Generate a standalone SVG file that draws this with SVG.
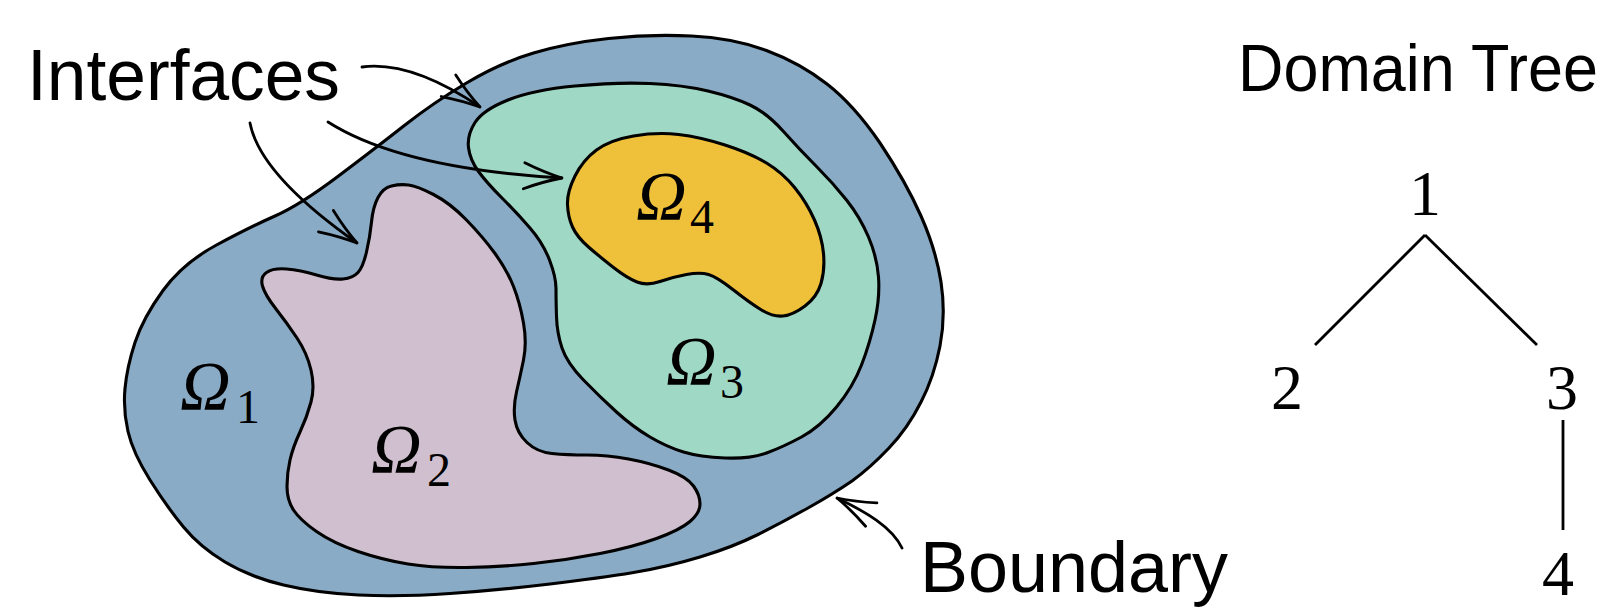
<svg xmlns="http://www.w3.org/2000/svg" width="1623" height="614" viewBox="0 0 1623 614">
<style>
.region{stroke:#000;stroke-width:3.1;stroke-linejoin:round}
.sans{font-family:"Liberation Sans",Arial,sans-serif;fill:#000}
.omega{font-family:"Liberation Serif","Times New Roman",serif;font-style:italic;font-size:70px;fill:#000}
.sub{font-style:normal;font-size:48px}
.num{font-family:"Liberation Serif","Times New Roman",serif;font-size:64px;fill:#000;text-anchor:middle}
.arrow{fill:none;stroke:#000;stroke-width:2.8;stroke-linecap:round}
.edge{fill:none;stroke:#000;stroke-width:2.8}
</style>
<defs>
<marker id="head" markerUnits="userSpaceOnUse" viewBox="-42 -16 46 32" refX="0" refY="0" markerWidth="46" markerHeight="32" orient="auto">
<path d="M-38,-13 C-24,-7 -8,-2 0,0 C-8,2 -24,7 -38,13" fill="none" stroke="#000" stroke-width="2.8" stroke-linecap="round"/>
</marker>
</defs>
<rect width="1623" height="614" fill="#fff"/>

<g id="omega1-region">
<path class="region" fill="#8AABC6" d="M135,342.5 Q143,318 163,290.5 Q183,263 216.5,245 Q250,227 275,216 Q300,205 338.5,176 Q377,147 405,125 Q433,103 466.5,83 Q500,63 533.5,53 Q567,43 608.5,38.5 Q650,34 691.5,36 Q733,38 766.5,50.5 Q800,63 827,84 Q854,105 880,143 Q906,182 921,216 Q936,250 941,282 Q946,315 940,346 Q934,377 921,402 Q908,428 889,448 Q870,468 852,481 Q833,494 808,508 Q783,522 758,534.5 Q733,547 700,557 Q667,567 633.5,572.5 Q600,578 550,584 Q500,590 450,593.5 Q400,597 358.5,595 Q317,593 283.5,585 Q250,577 225,562 Q200,547 183.5,527 Q167,507 150,480 Q133,453 128,431.5 Q123,410 125,388.5 Q127,367 135,342.5 Z"/>
<text class="omega" x="180" y="410">Ω<tspan class="sub" x="236" y="423">1</tspan></text>
</g>

<g id="omega2-region">
<path class="region" fill="#D0BFCE" d="M262.5,286 Q260,277 266.5,272.5 Q273,268 286.5,269 Q300,270 316.5,275 Q333,280 343,279 Q353,278 358,272.5 Q363,267 366.5,252 Q370,237 371.5,222 Q373,207 378,197.5 Q383,188 391.5,186 Q400,184 408.5,185 Q417,186 433.5,194.5 Q450,203 466.5,220 Q483,237 495,253.5 Q507,270 513.5,286.5 Q520,303 523.5,323 Q527,343 523.5,360 Q520,377 516.5,392 Q513,407 515,420 Q517,433 527,442.5 Q537,452 552,453.5 Q567,455 587,455 Q607,455 628.5,459 Q650,463 668.5,470 Q687,477 693.5,486 Q700,495 700,504 Q700,513 690,521.5 Q680,530 656.5,538.5 Q633,547 600,553.5 Q567,560 533.5,563.5 Q500,567 466.5,567.5 Q433,568 408,564 Q383,560 358,551.5 Q333,543 316.5,531.5 Q300,520 293.5,510 Q287,500 287,486.5 Q287,473 290,460 Q293,447 300,432 Q307,417 311,402 Q315,387 311,370 Q307,353 297,338 Q287,323 276,309 Q265,295 262.5,286 Z"/>
<text class="omega" x="371" y="473">Ω<tspan class="sub" x="427" y="486">2</tspan></text>
</g>

<g id="omega3-region">
<path class="region" fill="#A0D8C6" d="M475,122.5 Q483,110 508,100 Q533,90 575,86 Q617,82 650,83.5 Q683,85 708,91 Q733,97 750,105 Q767,113 783.5,131.5 Q800,150 816.5,166.5 Q833,183 846.5,200 Q860,217 868.5,237 Q877,257 878.5,277 Q880,297 875,320 Q870,343 861.5,365 Q853,387 836.5,407 Q820,427 801.5,437 Q783,447 766.5,453 Q750,459 725,458 Q700,457 683.5,452 Q667,447 650,437 Q633,427 616.5,412 Q600,397 583.5,380 Q567,363 562,348 Q557,333 556.5,316.5 Q556,300 556,288.5 Q556,277 549.5,260 Q543,243 530,228 Q517,213 502,198 Q487,183 478.5,171.5 Q470,160 468.5,147.5 Q467,135 475,122.5 Z"/>
<text class="omega" x="666" y="385">Ω<tspan class="sub" x="720" y="398">3</tspan></text>
</g>

<g id="omega4-region">
<path class="region" fill="#EFC13A" d="M567.5,204.5 Q567,192 575,176 Q583,160 596.5,150 Q610,140 633.5,136 Q657,132 678.5,134.5 Q700,137 725,145 Q750,153 766.5,163 Q783,173 795,188 Q807,203 814.5,220 Q822,237 823.5,253.5 Q825,270 821,283.5 Q817,297 805,306 Q793,315 783,316 Q773,317 761.5,310 Q750,303 733.5,290 Q717,277 708.5,274.5 Q700,272 686.5,274.5 Q673,277 660,281.5 Q647,286 637,282 Q627,278 613.5,267.5 Q600,257 588.5,247 Q577,237 572.5,227 Q568,217 567.5,204.5 Z"/>
<text class="omega" x="636" y="220">Ω<tspan class="sub" x="690" y="233">4</tspan></text>
</g>

<g id="label-interfaces">
<text class="sans" x="27" y="100" font-size="73" textLength="313" lengthAdjust="spacingAndGlyphs">Interfaces</text>
</g>
<g id="label-boundary">
<text class="sans" x="920" y="592" font-size="73" textLength="308" lengthAdjust="spacingAndGlyphs">Boundary</text>
</g>
<g id="label-domain-tree">
<text class="sans" x="1238" y="91" font-size="66" textLength="360" lengthAdjust="spacingAndGlyphs">Domain Tree</text>
</g>

<g id="tree-node-1"><text class="num" x="1425" y="215">1</text></g>
<g id="tree-node-2"><text class="num" x="1287" y="409">2</text></g>
<g id="tree-node-3"><text class="num" x="1562" y="409">3</text></g>
<g id="tree-node-4"><text class="num" x="1558" y="595">4</text></g>

<g id="connectors">
<path class="arrow" marker-end="url(#head)" d="M362,67 C400,62 440,80 480,107"/>
<path class="arrow" marker-end="url(#head)" d="M328,122 C380,155 460,172 562,178"/>
<path class="arrow" marker-end="url(#head)" d="M250,123 C258,165 310,210 357,243"/>
<path class="arrow" marker-end="url(#head)" d="M902,548 C892,527 866,512 837,498"/>
<line class="edge" x1="1425" y1="235" x2="1315" y2="345"/>
<line class="edge" x1="1425" y1="235" x2="1537" y2="345"/>
<line class="edge" x1="1563" y1="420" x2="1563" y2="530"/>
</g>
</svg>
